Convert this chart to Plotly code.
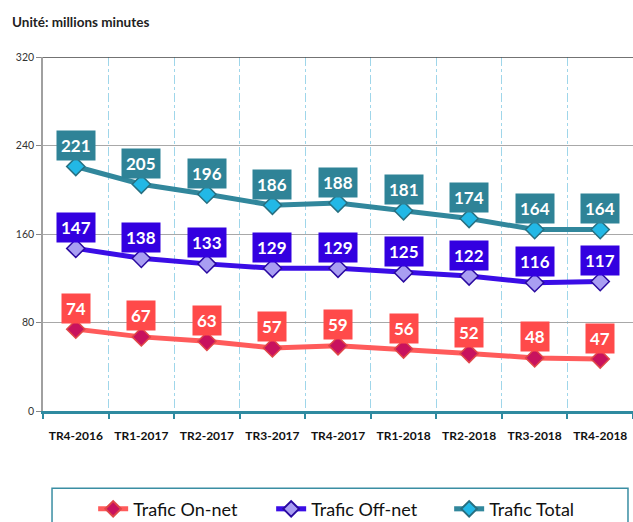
import plotly.graph_objects as go

categories = ["TR4-2016", "TR1-2017", "TR2-2017", "TR3-2017", "TR4-2017",
              "TR1-2018", "TR2-2018", "TR3-2018", "TR4-2018"]
on_net = [74, 67, 63, 57, 59, 56, 52, 48, 47]
off_net = [147, 138, 133, 129, 129, 125, 122, 116, 117]
total = [221, 205, 196, 186, 188, 181, 174, 164, 164]
y_ticks = [0, 80, 160, 240, 320]

series = [
    ("Trafic On-net", on_net, "#ff5b5b", "#c8125e", "#ff4a4a", "#e04848"),
    ("Trafic Off-net", off_net, "#3a0de6", "#a99ef2", "#3300e0", "#2a0aa0"),
    ("Trafic Total", total, "#31879c", "#22b8e6", "#2f8397", "#276f80"),
]

fig = go.Figure()
annotations = []
for name, vals, lc, mc, boxc, mline in series:
    fig.add_trace(go.Scatter(
        x=categories, y=vals, name=name, mode="lines+markers",
        line=dict(color=lc, width=5),
        marker=dict(symbol="diamond", size=14, color=mc,
                    line=dict(color=mline, width=1.5)),
        cliponaxis=False,
    ))
    for c, v in zip(categories, vals):
        annotations.append(dict(
            x=c, y=v, text=f"<b>{v}</b>", showarrow=False,
            yshift=21, yanchor="middle", xanchor="center",
            bgcolor=boxc, borderpad=4,
            font=dict(family="Lato", size=17, color="white"),
        ))

annotations.append(dict(
    xref="paper", yref="paper", x=-0.056, y=1.1, xanchor="left", yanchor="middle",
    text="<b>Unité: millions minutes</b>", showarrow=False,
    font=dict(family="Lato", size=13.5, color="#222222"),
))

fig.update_layout(
    width=633, height=522,
    margin=dict(l=43, r=0, t=57, b=111, autoexpand=False),
    paper_bgcolor="white", plot_bgcolor="white",
    annotations=annotations,
    showlegend=True,
    legend=dict(
        orientation="h", x=0.085, xanchor="left", y=-0.225, yanchor="top",
        borderwidth=0, bgcolor="rgba(0,0,0,0)",
        font=dict(family="Lato", size=18, color="#111111"),
        entrywidth=133, entrywidthmode="pixels",
        itemsizing="constant",
    ),
    shapes=[
        dict(type="line", xref="paper", yref="y", x0=0, x1=1, y0=320, y1=320,
             line=dict(color="#444444", width=1.5)),
        dict(type="rect", xref="paper", yref="paper", x0=0.0153, x1=0.9915,
             y0=-0.218, y1=-0.34, line=dict(color="#3a8ea3", width=1.5)),
    ],
)

fig.update_xaxes(
    type="category", range=[-0.5, 8.5], tickson="boundaries",
    showgrid=True, gridcolor="#9fd6ea", griddash="dashdot", gridwidth=1,
    showline=True, linecolor="#2f8aa0", linewidth=3,
    ticks="outside", ticklen=5, tickcolor="#2f8aa0", tickwidth=2,
    ticklabelstandoff=12,
    tickfont=dict(family="Lato", size=12, color="#111111"),
    tickprefix="<b>", ticksuffix="</b>",
)
fig.update_yaxes(
    range=[0, 320], tickvals=y_ticks, showgrid=True, gridcolor="#a8a8a8", gridwidth=1,
    zeroline=False, showline=True, linecolor="#a0a0a0", linewidth=1.5,
    ticks="outside", ticklen=5, tickcolor="#888888",
    tickfont=dict(family="Lato", size=10.5, color="#333333"),
)

fig.write_html("out.html", config={"displayModeBar": False},
               post_script="document.body.style.margin='0';document.body.style.overflow='hidden';")
